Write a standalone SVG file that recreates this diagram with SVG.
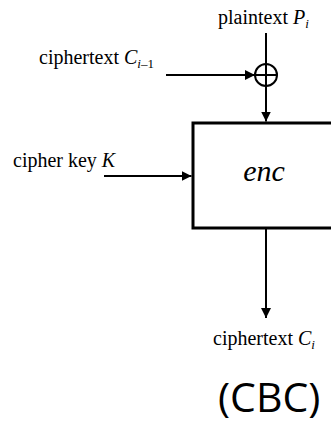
<svg xmlns="http://www.w3.org/2000/svg" width="331" height="423" viewBox="0 0 331 423">
<style>
.t{font-family:"Liberation Serif","Times New Roman",serif;font-size:20px;fill:#000}
.i{font-style:italic}
.s{font-size:13px}
.ln{stroke:#000;stroke-width:2;fill:none}
</style>
<defs>
<marker id="ah" markerUnits="userSpaceOnUse" markerWidth="10" markerHeight="10" refX="10" refY="5" orient="auto">
<path d="M0,0 L10,5 L0,10 z" fill="#000"/>
</marker>
</defs>
<rect width="331" height="423" fill="#fff"/>
<g id="connectors">
<line class="ln" x1="266" y1="33" x2="266" y2="64"/>
<line class="ln" x1="166" y1="75" x2="255" y2="75" marker-end="url(#ah)"/>
<line class="ln" x1="266" y1="86" x2="266" y2="121.5" marker-end="url(#ah)"/>
<line class="ln" x1="104" y1="176" x2="191.5" y2="176" marker-end="url(#ah)"/>
<line class="ln" x1="266" y1="229" x2="266" y2="318" marker-end="url(#ah)"/>
</g>
<g id="xor">
<circle cx="266" cy="75" r="11" class="ln" stroke-width="2.5"/>
<line class="ln" x1="255" y1="75" x2="277" y2="75"/>
<line class="ln" x1="266" y1="64" x2="266" y2="86"/>
</g>
<g id="enc">
<rect x="193" y="123" width="150" height="105" fill="#fff" stroke="#000" stroke-width="3"/>
<text x="264" y="181" class="t i" font-size="30" text-anchor="middle" style="font-size:30px">enc</text>
</g>
<g id="plaintext">
<text x="218" y="24" class="t">plaintext <tspan class="i">P</tspan><tspan class="i s" dy="4">i</tspan></text>
</g>
<g id="prev">
<text x="39" y="64" class="t">ciphertext <tspan class="i">C</tspan><tspan class="s" dy="4"><tspan class="i">i</tspan>–1</tspan></text>
</g>
<g id="key">
<text x="13" y="167" class="t">cipher key <tspan class="i">K</tspan></text>
</g>
<g id="out">
<text x="213" y="345" class="t">ciphertext <tspan class="i">C</tspan><tspan class="i s" dy="4">i</tspan></text>
</g>
<text x="218" y="412" font-family="'Open Sans','Liberation Sans',sans-serif" font-size="41" fill="#000">(CBC)</text>
</svg>
